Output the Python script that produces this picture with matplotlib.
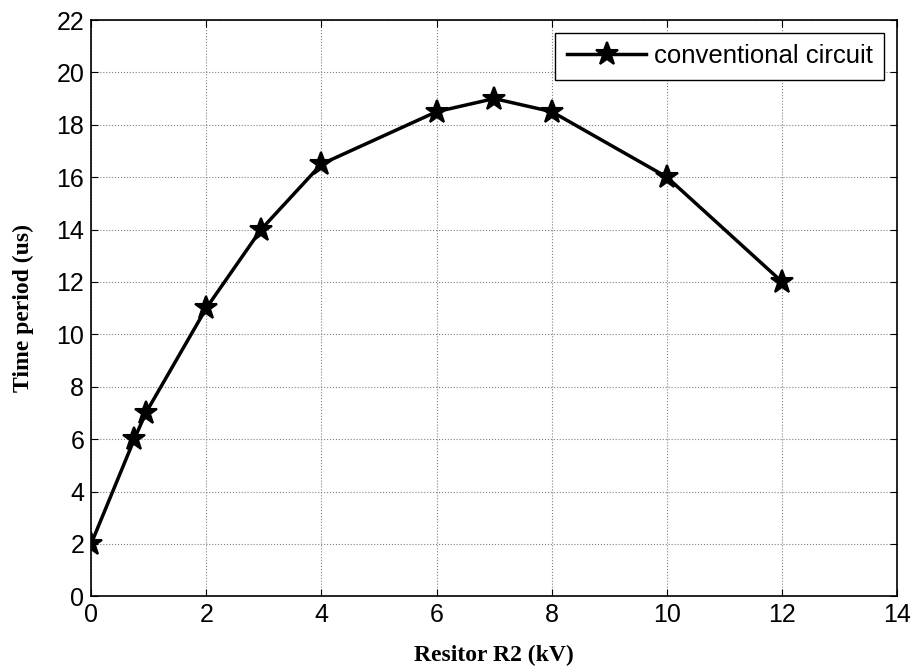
import matplotlib
matplotlib.use("Agg")
import matplotlib.pyplot as plt

# data
r2 = [0, 0.75, 0.95, 2, 2.95, 4, 6, 7, 8, 10, 12]
period = [2, 6, 7, 11, 14, 16.5, 18.5, 19, 18.5, 16, 12]
x_ticks = [0, 2, 4, 6, 8, 10, 12, 14]
y_ticks = [0, 2, 4, 6, 8, 10, 12, 14, 16, 18, 20, 22]

plt.rcParams['font.family'] = ['Liberation Sans', 'DejaVu Sans']

fig = plt.figure(figsize=(9.11, 6.67), dpi=100)
ax = fig.add_axes([0.1, 0.106, 0.885, 0.864])

ax.plot(r2, period, color='black', linewidth=2.5, marker='*', markersize=17,
        markerfacecolor='black', markeredgecolor='black', markeredgewidth=1.5,
        label='conventional circuit')

ax.set_xlim(0, 14)
ax.set_ylim(0, 22)
ax.set_xticks(x_ticks)
ax.set_yticks(y_ticks)
ax.tick_params(direction='in', length=5, labelsize=18, color='black', top=True, right=True, pad=5)
ax.grid(True, linestyle=':', color='#808080', linewidth=0.8)
for s in ax.spines.values():
    s.set_linewidth(1.2)

ax.set_xlabel('Resitor R2 (kV)', fontsize=17, fontweight='bold', family='Liberation Serif', labelpad=13)
ax.set_ylabel('Time period (us)', fontsize=17, fontweight='bold', family='Liberation Serif', labelpad=16)

leg = ax.legend(loc='upper right', fontsize=18.5, fancybox=False, framealpha=1,
                edgecolor='black', handlelength=3.1, borderaxespad=0.5,
                borderpad=0.45, handletextpad=0.3)
leg.get_frame().set_linewidth(1.0)

fig.savefig('out.png', dpi=100)
